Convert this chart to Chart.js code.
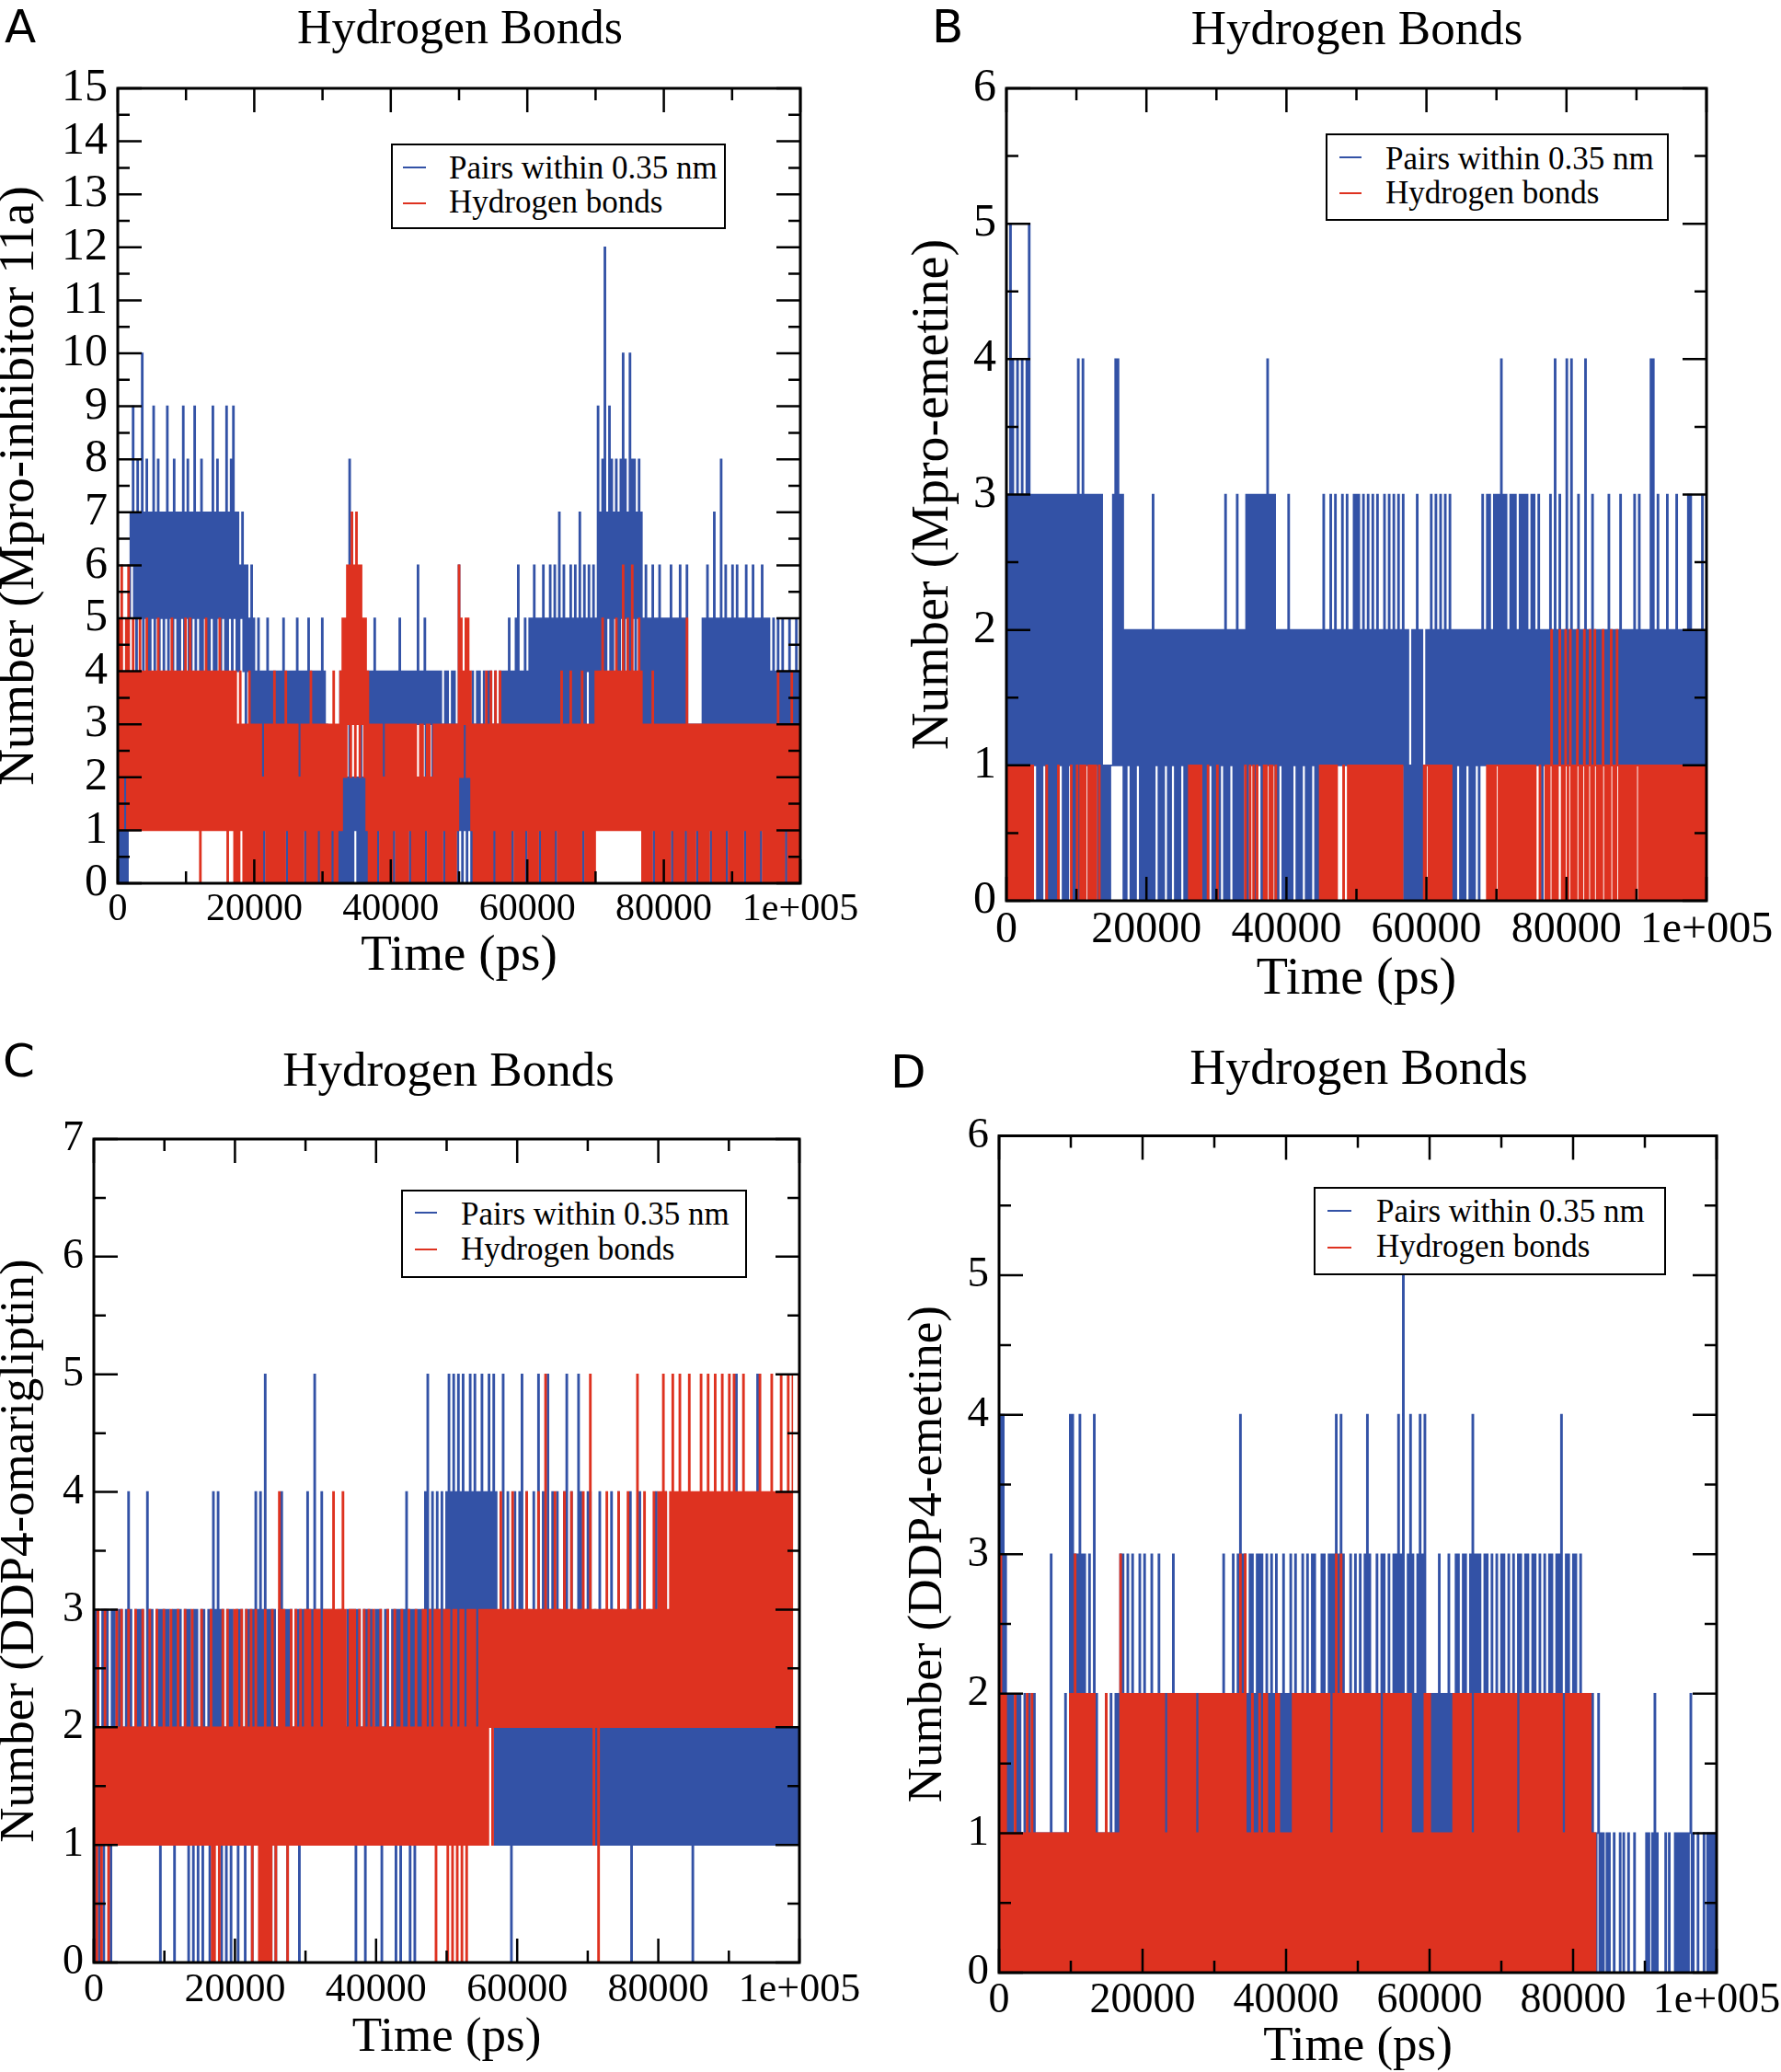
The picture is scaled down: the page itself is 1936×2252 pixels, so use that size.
<!DOCTYPE html>
<html>
<head>
<meta charset="utf-8">
<script src="https://cdn.jsdelivr.net/npm/chart.js@4.4.0/dist/chart.umd.min.js"></script>
<style>
  html, body { margin: 0; padding: 0; background: #fff; }
  body { position: relative; width: 1936px; height: 2252px; overflow: hidden; }
  canvas { position: absolute; }
  .txt { position: absolute; white-space: nowrap; line-height: 1; color: #000; font-family: 'Liberation Serif', 'Times New Roman', serif; }
  .letter { font-family: 'DejaVu Sans', 'Liberation Sans', sans-serif; }
  .legend { position: absolute; border: 2px solid #000; background: #fff; box-sizing: border-box; }
  .swatch { position: absolute; height: 2px; }
</style>
</head>
<body>
<canvas id="chartA" width="968" height="1040" style="left:0px;top:60px"></canvas>
<canvas id="chartB" width="968" height="1050" style="left:968px;top:60px"></canvas>
<canvas id="chartC" width="968" height="1052" style="left:0px;top:1200px"></canvas>
<canvas id="chartD" width="1000" height="1052" style="left:968px;top:1200px"></canvas>
<script>
// time axis 0..100000 ps, one sample every ~167 ps
// (one line = 20 samples = ~3.3 ns)
const SPAN = 100000;
const xTickValues = [0, 20000, 40000, 60000, 80000, 100000];
const xTickLabels = ['0', '20000', '40000', '60000', '80000', '1e+005'];
const legendLabels = ['Pairs within 0.35 nm', 'Hydrogen bonds'];

// A: Mpro-inhibitor 11a
const pairsA = [
  0,2,0,1,0,2,0,2,0,1, 5,7,6,9,5,7,4,8,5,7,
  5,10,4,7,5,8,4,7,4,7, 5,9,4,7,5,8,4,7,5,7,
  4,7,5,9,4,7,5,7,4,8, 5,7,4,7,4,7,5,9,4,7,
  5,8,4,7,4,7,5,9,4,7, 5,7,4,8,4,7,5,7,4,7,
  4,7,5,9,4,7,4,8,5,7, 4,7,5,7,4,9,4,7,5,8,
  4,9,5,7,4,7,4,6,5,7, 4,6,3,6,4,5,3,6,3,5,
  2,4,2,5,2,4,1,4,0,4, 2,5,2,4,1,4,2,4,2,4,
  2,4,1,4,2,5,2,4,0,4, 1,4,2,4,2,4,0,5,2,4,
  2,4,1,4,0,4,2,5,2,4, 1,4,2,4,0,4,0,4,1,5,
  2,4,0,3,0,2,0,2,0,2, 0,2,0,2,0,4,0,2,0,2,
  0,2,0,8,0,2,0,2,1,2, 0,2,0,3,0,2,0,2,0,4,
  2,4,1,4,2,5,2,4,0,4, 2,4,2,4,0,4,2,4,2,4,
  2,4,0,4,2,4,2,5,2,4, 1,4,2,4,2,4,0,4,1,4,
  2,4,3,6,3,4,3,4,3,5, 0,4,3,4,3,4,2,4,3,4,
  1,4,2,4,1,3,0,4,1,4, 2,3,1,4,2,4,1,3,0,6,
  1,4,0,3,1,4,0,4,1,3, 0,4,1,3,0,4,1,4,0,3,
  0,4,1,3,0,4,1,4,0,3, 0,4,0,3,1,4,0,4,1,4,
  2,4,2,5,2,4,0,4,2,5, 2,6,2,4,2,4,2,5,0,4,
  3,5,2,5,3,6,3,5,2,5, 0,5,3,6,2,5,3,5,3,6,
  3,5,3,6,0,5,3,7,3,5, 3,6,3,5,3,5,3,6,3,5,
  3,6,3,5,3,7,3,5,0,6, 3,5,4,6,3,5,3,6,3,5,
  4,9,4,7,4,8,4,12,4,7, 5,9,4,8,4,7,5,8,4,7,
  4,8,5,10,4,8,5,7,4,10, 4,8,5,8,4,7,5,8,4,7,
  3,5,3,6,3,5,3,5,3,6, 0,5,3,5,3,6,3,5,3,5,
  3,5,3,5,3,6,0,5,3,5, 3,5,3,6,3,5,3,5,0,6,
  1,3,2,3,1,3,2,3,0,3, 2,3,3,5,3,5,3,6,3,5,
  0,5,3,7,3,5,3,5,3,8, 3,5,3,6,0,5,3,5,3,6,
  3,5,3,6,3,5,3,5,3,5, 0,6,3,5,3,5,3,6,3,5,
  3,5,3,5,0,6,3,5,3,5, 3,5,3,4,3,5,3,4,3,5,
  1,4,2,5,1,4,0,4,1,5, 2,4,1,4,2,5,1,4,2,5
];
const hbondsA = [
  1,5,1,6,1,4,2,5,1,6, 1,4,1,5,1,4,1,4,1,5,
  1,4,1,4,1,5,1,4,1,4, 1,4,1,4,1,5,1,4,1,4,
  1,4,1,4,1,4,1,5,1,4, 1,4,1,4,1,4,1,4,1,5,
  1,4,1,5,1,4,1,4,1,4, 1,4,0,4,1,4,1,5,1,4,
  1,4,1,4,1,4,1,4,1,5, 1,4,1,4,1,4,0,4,1,4,
  1,4,0,4,0,3,0,4,1,3, 0,3,0,3,0,4,0,3,0,3,
  0,3,0,3,0,3,0,2,1,3, 0,3,0,3,0,3,0,4,0,3,
  0,3,0,3,0,3,0,4,1,3, 0,3,0,3,0,3,0,3,0,2,
  0,3,0,3,1,3,0,3,0,4, 0,3,0,3,0,3,1,3,0,3,
  0,3,0,3,0,3,0,3,1,4, 0,3,0,3,1,4,1,5,2,5,
  2,6,3,6,2,7,3,6,2,7, 3,6,2,6,3,5,2,5,1,4,
  0,3,0,3,0,3,0,3,1,3, 0,3,0,2,0,3,0,3,0,3,
  0,3,1,3,0,3,0,3,0,3, 0,3,0,3,0,3,1,3,0,3,
  0,3,0,2,0,3,0,3,0,2, 1,3,0,3,0,2,0,3,0,3,
  0,3,0,3,0,3,1,3,0,3, 0,3,0,3,0,3,0,3,1,6,
  2,5,2,4,3,5,2,5,2,4, 1,3,0,3,0,3,0,3,0,3,
  0,3,0,4,0,3,0,4,0,3, 1,4,0,3,0,4,0,3,0,3,
  0,3,0,3,0,3,1,3,0,3, 0,3,0,3,0,3,0,3,1,3,
  0,3,0,3,0,3,0,3,0,3, 1,3,0,3,0,3,0,3,0,3,
  0,3,0,3,1,3,0,3,0,4, 0,3,0,3,0,3,0,4,0,3,
  0,3,0,3,0,3,0,4,1,3, 0,3,0,3,0,3,0,3,0,4,
  1,4,1,4,1,5,1,4,1,4, 1,4,1,4,1,4,1,5,1,4,
  1,4,1,6,1,4,1,5,1,4, 1,6,1,4,1,4,1,5,1,4,
  0,3,0,3,0,3,0,3,0,4, 1,3,0,3,0,3,0,3,0,3,
  0,3,0,3,0,3,1,3,0,3, 0,3,0,3,0,3,0,3,1,5,
  0,3,0,3,0,3,0,3,1,3, 0,3,0,3,0,3,0,3,0,3,
  1,3,0,3,0,3,0,3,0,3, 0,3,0,3,1,3,0,3,0,3,
  0,3,0,3,0,3,0,3,0,3, 1,3,0,3,0,3,0,3,0,3,
  0,3,0,3,1,3,0,3,0,3, 0,3,0,3,0,3,0,3,0,4,
  0,3,0,3,0,3,1,3,0,3, 0,4,0,3,0,3,0,3,0,3
];

// B: Mpro-emetine
const pairsB = [
  1,3,1,5,1,4,1,3,1,4, 1,3,1,4,1,3,1,4,1,5,
  0,3,0,3,1,3,0,3,0,3, 0,3,1,3,0,3,0,3,0,3,
  0,3,0,3,0,3,1,3,0,3, 0,3,0,3,1,3,0,3,0,3,
  0,4,0,3,0,4,0,3,1,3, 0,3,0,3,0,3,1,3,0,3,
  0,3,0,1,0,1,0,1,0,1, 1,3,1,4,1,4,1,3,1,3,
  0,2,0,2,1,2,0,2,0,2, 0,2,1,2,0,2,0,2,0,2,
  0,2,0,2,0,3,0,2,1,2, 0,2,0,2,0,2,1,2,0,2,
  0,2,1,2,0,2,0,2,0,2, 1,2,0,2,0,2,0,2,1,2,
  0,2,0,2,0,2,1,2,0,2, 0,2,0,2,1,2,0,2,0,2,
  0,2,0,2,1,2,0,3,0,2, 0,2,1,2,0,2,0,3,0,2,
  0,2,0,2,1,3,0,3,1,3, 1,3,0,3,1,3,1,3,0,3,
  1,3,0,4,1,3,0,3,1,3, 0,2,0,2,1,2,0,2,0,2,
  0,3,0,2,0,2,1,2,0,2, 0,2,0,2,1,2,0,2,0,2,
  0,2,1,2,0,2,0,2,0,2, 1,3,1,2,1,2,1,3,1,2,
  1,3,1,2,1,2,1,3,1,2, 1,3,1,2,1,2,1,3,1,3,
  1,3,1,2,1,3,1,2,1,3, 1,2,1,3,1,2,1,3,1,2,
  1,2,1,3,1,2,1,3,1,2, 1,3,1,2,1,3,1,2,1,3,
  0,2,0,2,0,1,0,2,0,2, 0,3,0,2,0,2,0,1,0,2,
  1,2,1,3,1,2,1,3,1,2, 1,3,1,2,1,3,1,2,1,3,
  0,2,0,2,0,2,1,2,0,2, 0,2,0,2,1,2,0,2,0,2,
  0,2,1,2,0,2,1,3,1,2, 1,3,1,3,1,2,1,3,1,3,
  1,3,1,4,1,3,1,3,1,2, 1,3,1,3,1,3,1,2,1,3,
  1,3,1,3,1,3,1,2,1,3, 1,3,1,2,1,3,1,2,0,2,
  1,2,1,2,1,3,1,2,1,4, 1,2,1,3,1,2,1,2,1,4,
  1,2,1,4,1,2,1,2,1,3, 1,2,1,2,1,4,1,2,1,2,
  1,3,1,2,1,2,1,2,1,2, 1,2,1,2,1,3,1,2,1,2,
  1,2,1,2,1,3,1,2,1,2, 1,2,1,2,1,2,1,3,1,2,
  1,3,1,2,1,2,1,2,1,2, 1,4,1,4,1,2,1,3,1,2,
  1,2,1,2,1,3,1,2,1,2, 1,2,1,3,1,2,1,2,1,2,
  1,2,1,3,1,3,1,2,1,2, 1,2,1,2,1,3,1,2,1,3
];
const hbondsB = [
  1,0,1,0,1,0,1,0,1,0, 1,0,1,0,1,0,1,0,1,0,
  1,0,1,0,0,0,0,0,0,0, 0,0,0,0,1,0,0,0,0,0,
  0,0,0,0,1,0,0,0,0,0, 0,0,0,0,0,1,0,0,0,0,
  1,0,0,1,0,1,0,1,0,0, 1,0,1,0,1,0,1,0,0,1,
  0,0,0,0,0,0,0,0,0,0, 0,0,0,0,0,0,0,0,0,0,
  0,0,0,0,0,0,0,0,0,0, 0,0,0,0,0,0,0,0,0,0,
  0,0,0,0,0,0,0,0,0,0, 0,0,0,0,0,0,0,0,0,0,
  0,0,0,0,0,0,0,0,0,0, 0,0,0,0,0,0,1,0,1,0,
  1,0,1,0,1,0,1,0,0,0, 0,0,1,0,0,0,0,0,0,0,
  1,0,0,0,0,0,0,0,0,0, 0,0,0,0,0,0,0,0,0,0,
  0,0,0,0,1,0,0,0,1,0, 0,1,0,0,1,0,0,0,0,0,
  1,0,1,0,0,1,0,1,0,0, 1,0,0,0,0,0,0,0,0,0,
  0,0,0,0,0,0,0,0,0,0, 0,0,0,0,0,0,0,0,0,0,
  0,0,0,0,0,0,0,0,1,0, 1,0,1,0,1,0,1,0,1,0,
  1,0,1,0,0,0,0,0,1,0, 0,0,1,0,1,0,1,0,1,0,
  1,0,1,0,1,0,1,0,1,0, 1,0,1,0,1,0,1,0,1,0,
  1,0,1,0,1,0,1,0,1,0, 1,0,1,0,1,0,1,0,1,0,
  0,0,0,0,0,0,0,0,0,0, 0,0,0,0,0,0,0,1,0,1,
  1,0,1,0,1,0,1,0,1,0, 1,0,1,0,1,0,1,0,1,0,
  1,0,0,0,0,0,0,0,0,0, 0,0,0,0,0,0,0,0,0,0,
  0,0,0,0,0,0,0,0,0,0, 0,1,0,1,0,1,0,1,0,1,
  1,0,1,0,1,0,1,0,1,0, 1,0,1,0,1,0,1,0,1,0,
  1,0,1,0,1,0,1,0,1,0, 1,0,1,0,0,0,1,0,0,0,
  0,1,0,1,0,1,2,0,1,0, 1,0,1,2,1,0,1,0,2,1,
  0,1,2,0,1,0,1,0,2,1, 0,1,0,1,2,0,1,0,1,2,
  0,1,0,2,1,0,1,0,1,0, 2,1,0,1,0,1,0,2,1,0,
  1,0,2,1,0,1,0,1,0,1, 0,1,0,1,0,1,0,1,0,1,
  1,0,1,0,1,0,1,0,1,0, 1,0,1,0,1,0,1,0,1,0,
  1,0,1,0,1,0,1,0,1,0, 1,0,1,0,1,0,1,0,1,0,
  1,0,1,0,1,0,1,0,1,0, 1,0,1,0,1,0,1,0,1,1
];

// C: DDP4-omarigliptin
const pairsC = [
  0,3,1,3,0,2,1,3,0,3, 1,3,1,2,0,3,1,3,1,2,
  1,3,1,3,1,2,1,3,1,4, 1,3,1,2,1,3,1,3,1,3,
  1,3,1,2,1,4,1,3,1,3, 1,2,1,3,1,3,0,3,1,3,
  1,3,1,3,1,2,1,3,0,3, 1,3,1,3,1,2,1,3,1,3,
  0,3,1,2,0,3,1,3,0,2, 1,3,0,3,1,2,1,3,0,3,
  1,4,1,3,1,4,1,3,0,3, 1,2,0,3,1,3,0,3,1,2,
  1,3,0,3,1,3,1,2,0,3, 1,3,1,3,0,3,1,4,1,3,
  1,4,1,3,1,5,1,3,0,3, 0,3,1,3,0,2,1,3,1,4,
  1,3,1,3,0,3,1,3,1,2, 1,3,1,3,0,3,1,3,1,3,
  1,4,1,3,1,3,1,5,1,3, 1,3,1,4,1,3,1,3,1,3,
  1,3,1,3,1,2,1,3,1,3, 1,3,1,2,1,3,1,3,1,3,
  1,3,0,3,1,3,1,2,1,3, 0,3,1,3,1,3,1,2,1,3,
  1,3,1,3,0,2,1,3,1,3, 1,2,1,3,1,3,0,3,1,3,
  0,3,1,3,1,4,1,3,0,3, 1,3,0,3,1,3,1,3,1,3,
  1,4,1,5,1,3,1,4,1,3, 1,4,1,3,1,4,1,3,1,4,
  2,5,2,4,2,5,2,4,2,5, 2,4,2,5,2,4,2,4,2,5,
  2,4,2,5,2,4,2,4,2,5, 2,4,2,4,2,5,2,4,2,5,
  1,4,1,2,1,3,1,5,1,2, 1,4,1,2,0,3,1,4,1,2,
  1,4,1,5,1,2,1,4,1,3, 1,2,1,4,1,2,1,5,1,3,
  1,4,1,2,1,5,1,3,1,4, 1,2,1,4,1,3,1,2,1,4,
  1,5,1,2,1,4,1,3,1,2, 1,5,1,4,1,2,1,3,1,4,
  1,4,1,2,1,3,1,2,1,4, 1,2,1,3,1,2,1,2,1,4,
  1,3,1,2,1,4,1,2,1,3, 1,2,1,2,1,4,0,2,1,3,
  1,2,1,4,1,2,1,3,1,2, 1,3,1,2,1,2,1,4,1,2,
  1,3,1,2,1,4,1,2,1,3, 1,2,1,3,1,2,1,2,1,3,
  1,2,1,3,1,2,1,2,0,2, 1,2,1,3,1,2,1,2,1,2,
  1,2,1,2,1,3,1,2,1,2, 1,2,1,3,1,2,1,2,1,2,
  1,2,1,2,1,5,1,2,1,2, 1,2,1,3,1,2,1,2,1,2,
  1,2,1,5,1,2,1,2,1,2, 1,2,1,2,1,3,1,2,1,2,
  1,2,1,2,1,2,1,3,1,2, 1,2,1,2,1,2,1,2,1,2
];
const hbondsC = [
  1,2,0,3,1,2,0,2,1,3, 1,2,0,2,1,2,1,2,1,3,
  1,2,1,3,1,2,1,2,1,3, 1,2,1,2,1,3,1,2,1,2,
  1,3,1,2,1,2,1,3,1,2, 1,2,1,3,1,2,1,2,1,3,
  1,2,1,2,1,3,1,2,1,2, 1,3,1,2,1,2,1,3,1,2,
  1,2,1,3,1,2,1,2,1,2, 1,3,1,2,1,2,1,2,1,3,
  0,2,0,2,1,2,0,2,1,3, 1,2,1,3,1,2,1,2,1,3,
  1,3,1,2,1,3,1,2,1,3, 1,2,1,3,0,2,1,3,1,2,
  0,2,0,2,0,3,0,2,0,2, 0,3,1,2,0,2,1,4,1,3,
  1,3,1,2,0,2,1,3,1,2, 1,3,1,2,1,3,1,2,1,3,
  1,3,1,3,1,2,1,3,1,3, 1,3,1,2,1,3,1,3,1,3,
  1,3,1,4,1,3,1,3,1,3, 1,4,1,3,1,2,1,3,1,3,
  1,3,1,2,1,3,1,2,1,3, 1,2,1,3,1,2,1,3,1,2,
  1,2,1,3,1,2,1,2,1,3, 1,2,1,2,1,3,1,2,1,2,
  1,3,1,2,1,2,1,3,1,2, 1,2,1,3,1,2,1,2,1,3,
  1,3,1,2,1,3,1,2,1,3, 0,3,1,3,1,2,1,3,1,3,
  0,3,1,2,0,3,1,3,0,2, 1,3,0,3,1,2,0,3,1,3,
  1,3,1,3,1,2,1,3,1,3, 1,3,1,3,1,3,2,3,1,3,
  2,3,2,3,2,4,2,3,2,3, 2,3,2,3,2,4,2,3,2,3,
  2,3,2,3,2,3,2,4,2,3, 2,3,2,3,2,3,2,4,2,3,
  2,3,2,5,2,3,2,3,2,3, 2,4,2,3,2,3,2,3,2,4,
  2,3,2,3,2,4,2,3,2,3, 2,3,2,3,2,4,2,3,2,3,
  2,5,2,3,1,3,2,3,0,3, 2,3,2,3,2,4,2,3,2,3,
  2,3,2,3,2,4,2,3,2,3, 2,3,2,4,2,3,2,3,2,3,
  2,5,2,3,2,3,2,4,2,3, 2,3,2,3,2,4,2,3,2,4,
  2,4,2,5,2,4,2,3,2,4, 2,5,2,4,2,4,2,5,2,4,
  2,4,2,4,2,5,2,4,2,4, 2,4,2,4,2,5,2,4,2,4,
  2,5,2,4,2,4,2,5,2,4, 2,4,2,5,2,4,2,4,2,5,
  2,4,2,5,2,4,2,4,2,4, 2,5,2,4,2,4,2,4,2,4,
  2,4,2,4,2,5,2,4,2,4, 2,4,2,4,2,5,2,4,2,4,
  2,4,2,5,2,4,2,4,2,5, 2,4,2,5,5,5,5,5,4,5
];

// D: DDP4-emetine
const pairsD = [
  2,4,1,4,2,3,0,2,0,2, 0,2,0,1,0,2,0,2,0,1,
  0,2,0,1,0,2,0,1,0,2, 0,1,0,1,0,1,0,1,0,1,
  0,1,0,3,0,1,0,1,0,1, 0,1,0,1,0,2,0,1,0,4,
  1,4,1,3,1,3,1,4,1,3, 0,3,1,2,1,3,1,2,1,4,
  0,2,0,1,0,1,0,1,0,2, 0,1,0,2,0,1,0,2,0,2,
  1,3,1,3,0,2,1,3,1,2, 1,3,0,2,1,2,1,3,0,2,
  1,3,0,2,1,2,1,3,0,2, 1,2,1,3,0,2,1,2,0,2,
  0,2,1,2,1,3,0,2,1,2, 0,2,1,2,0,2,1,2,0,2,
  1,2,0,2,1,2,0,2,1,2, 0,2,1,2,0,2,0,2,1,2,
  0,2,1,2,0,2,1,3,1,2, 0,2,1,2,1,3,1,2,1,3,
  1,4,1,3,0,3,1,2,1,3, 1,3,1,2,1,3,1,3,1,3,
  1,2,1,3,1,2,1,3,1,2, 1,3,1,2,1,2,1,3,1,2,
  1,2,1,3,1,2,1,3,1,2, 0,2,1,3,1,2,1,3,1,2,
  1,3,1,3,0,2,1,2,1,3, 1,3,1,2,1,3,1,3,1,3,
  1,4,1,3,1,4,1,3,1,2, 0,2,1,3,1,2,0,3,1,2,
  1,3,1,2,1,3,1,4,1,3, 1,2,0,2,1,3,1,2,1,3,
  1,3,1,2,1,3,1,2,1,3, 1,3,1,4,1,3,1,5,1,2,
  1,3,1,4,1,3,1,2,1,3, 1,4,1,3,1,4,1,2,0,2,
  1,2,0,2,0,2,0,3,0,2, 0,2,0,2,0,3,0,2,0,2,
  1,3,1,3,1,2,1,3,1,3, 1,2,1,3,1,4,1,3,1,3,
  1,3,1,2,1,3,1,3,1,2, 1,3,1,2,1,3,1,2,1,3,
  1,3,1,2,1,3,1,2,1,3, 1,2,1,3,1,3,1,2,1,3,
  1,3,1,2,1,3,1,3,1,2, 1,3,1,2,1,3,1,2,1,3,
  1,3,1,2,1,3,1,3,1,4, 1,2,1,3,1,3,1,2,1,3,
  1,3,1,2,1,3,1,2,0,2, 0,2,0,1,0,2,0,1,0,1,
  2,0,1,0,1,0,0,1,0,1, 0,0,0,1,0,0,0,0,1,0,
  0,1,0,0,0,1,0,0,0,0, 1,0,0,0,0,0,0,0,0,0,
  1,0,1,0,0,1,0,2,0,1, 0,0,0,0,0,0,1,0,0,1,
  0,0,0,0,1,0,1,0,1,0, 1,0,1,0,1,0,1,2,0,1,
  0,0,0,1,0,0,0,0,1,0, 0,1,0,1,0,1,0,1,0,1
];
const hbondsD = [
  0,3,0,2,0,2,0,1,0,1, 0,1,0,2,0,1,0,1,0,1,
  0,1,0,2,0,1,0,2,0,1, 0,1,0,1,0,1,0,1,0,1,
  0,1,0,1,0,1,0,1,0,1, 0,1,0,1,0,1,0,1,0,2,
  0,2,0,3,0,2,0,2,0,2, 0,2,0,2,0,2,0,2,0,2,
  0,1,0,1,0,1,0,1,0,2, 0,1,0,1,0,1,0,1,0,1,
  0,3,0,2,0,2,0,2,0,2, 0,2,0,2,0,2,0,2,0,2,
  0,2,0,2,0,2,0,2,0,2, 0,2,0,2,0,2,0,2,0,1,
  0,2,0,2,0,2,0,2,0,2, 0,2,0,2,0,2,0,2,0,2,
  0,2,0,2,0,1,0,2,0,2, 0,2,0,2,0,2,0,2,0,2,
  0,2,0,2,0,2,0,2,0,2, 0,2,0,2,0,2,0,2,0,2,
  0,3,0,2,0,3,0,1,0,1, 0,2,0,1,0,1,0,2,0,1,
  0,2,0,2,0,1,0,1,0,1, 0,2,0,2,0,1,0,1,0,1,
  0,1,0,1,0,2,0,2,0,2, 0,2,0,2,0,2,0,2,0,2,
  0,2,0,2,0,2,0,2,0,2, 0,2,0,2,0,2,0,1,0,2,
  0,3,0,2,0,3,0,2,0,2, 0,2,0,2,0,2,0,2,0,2,
  0,2,0,2,0,2,0,2,0,2, 0,2,0,2,0,2,0,2,0,1,
  0,2,0,2,0,2,0,2,0,2, 0,2,0,2,0,2,0,2,0,2,
  0,2,0,2,0,1,0,1,0,1, 0,1,0,1,0,2,0,2,0,2,
  0,1,0,1,0,1,0,1,0,1, 0,1,0,1,0,1,0,1,0,2,
  0,2,0,2,0,2,0,2,0,2, 0,2,0,2,0,1,0,2,0,2,
  0,2,0,2,0,2,0,2,0,2, 0,2,0,2,0,2,0,2,0,2,
  0,2,0,2,0,2,0,2,0,2, 0,2,0,1,0,2,0,2,0,2,
  0,2,0,2,0,2,0,2,0,2, 0,2,0,2,0,2,0,2,0,2,
  0,2,0,2,0,2,0,2,0,2, 0,1,0,2,0,2,0,2,0,2,
  0,2,0,2,0,2,0,2,0,2, 0,2,0,2,0,1,0,1,0,0,
  0,0,0,0,0,0,0,0,0,0, 0,0,0,0,0,0,0,0,0,0,
  0,0,0,0,0,0,0,0,0,0, 0,0,0,0,0,0,0,0,0,0,
  0,0,0,0,0,0,0,0,0,0, 0,0,0,0,0,0,0,0,0,0,
  0,0,0,0,0,0,0,0,0,0, 0,0,0,0,0,0,0,0,0,0,
  0,0,0,0,0,0,0,0,0,0, 0,0,0,0,0,0,0,0,0,0
];

const BLUE = '#3352a6';
const RED = '#de3220';
const SERIF = "'Liberation Serif', 'Times New Roman', serif";
const LINE_W = 1.6;

// ticks pointing inwards on all four sides, plus the box
const framePlugin = {
  id: 'frame',
  afterDatasetsDraw(chart) {
    const { ctx, chartArea: a, scales: { x, y } } = chart;
    ctx.save();
    ctx.strokeStyle = '#000';
    ctx.lineWidth = 2.5;
    ctx.beginPath();
    for (let v = 0; v <= x.max; v += 10000) {
      const px = x.getPixelForValue(v);
      const len = v % 20000 === 0 ? 26 : 13;
      ctx.moveTo(px, a.bottom); ctx.lineTo(px, a.bottom - len);
      ctx.moveTo(px, a.top); ctx.lineTo(px, a.top + len);
    }
    for (let v = 0; v <= y.max; v += 0.5) {
      const py = y.getPixelForValue(v);
      const len = v % 1 === 0 ? 26 : 13;
      ctx.moveTo(a.left, py); ctx.lineTo(a.left + len, py);
      ctx.moveTo(a.right, py); ctx.lineTo(a.right - len, py);
    }
    ctx.stroke();
    ctx.lineWidth = 3;
    ctx.strokeRect(a.left, a.top, a.right - a.left, a.bottom - a.top);
    ctx.restore();
  }
};

function series(values, color, order) {
  return {
    data: values.map((v, i) => ({ x: i * SPAN / (values.length - 1), y: v })),
    borderColor: color,
    borderWidth: LINE_W,
    pointRadius: 0,
    stepped: true,
    fill: false,
    order: order
  };
}

function makePanel(p) {
  new Chart(document.getElementById(p.id), {
    type: 'line',
    data: { datasets: [series(p.pairs, BLUE, 2), series(p.hbonds, RED, 1)] },
    options: {
      responsive: false,
      devicePixelRatio: 1,
      animation: false,
      events: [],
      layout: { padding: p.pad },
      scales: {
        x: {
          type: 'linear', min: 0, max: SPAN,
          grid: { display: false, drawTicks: false },
          border: { display: false },
          afterFit: s => { s.height = p.xHeight; },
          ticks: {
            stepSize: 20000, autoSkip: false, maxRotation: 0, padding: 8, color: '#000',
            font: { family: SERIF, size: p.xTick, lineHeight: 1 },
            callback: v => { const k = xTickValues.indexOf(v); return k < 0 ? '' : xTickLabels[k]; }
          },
          title: {
            display: true, text: 'Time (ps)', color: '#000',
            font: { family: SERIF, size: p.axisFont, lineHeight: 1 },
            padding: { top: 0, bottom: p.xTitlePad }
          }
        },
        y: {
          type: 'linear', min: 0, max: p.yMax,
          grid: { display: false, drawTicks: false },
          border: { display: false },
          afterFit: s => { s.width = p.yWidth; },
          ticks: {
            stepSize: 1, autoSkip: false, padding: 11, color: '#000',
            font: { family: SERIF, size: p.yTick, lineHeight: 1 }
          },
          title: {
            display: true, text: p.yTitle, color: '#000',
            font: { family: SERIF, size: p.axisFont, lineHeight: 1 },
            padding: { top: p.yTitlePad, bottom: 0 }
          }
        }
      },
      plugins: { legend: { display: false }, tooltip: { enabled: false } }
    },
    plugins: [framePlugin]
  });
}

const panels = [
  { id: 'chartA', yMax: 15, yTitle: 'Number (Mpro-inhibitor 11a)', pairs: pairsA, hbonds: hbondsA,
    pad: { left: 0, top: 35, right: 98, bottom: 0 }, yWidth: 128, xHeight: 140,
    yTick: 50, xTick: 42, axisFont: 55, xTitlePad: 33, yTitlePad: -6 },
  { id: 'chartB', yMax: 6, yTitle: 'Number (Mpro-emetine)', pairs: pairsB, hbonds: hbondsB,
    pad: { left: 0, top: 31, right: 81, bottom: 0 }, yWidth: 126, xHeight: 131,
    yTick: 50, xTick: 48, axisFont: 56, xTitlePad: 17, yTitlePad: 19 },
  { id: 'chartC', yMax: 7, yTitle: 'Number (DDP4-omarigliptin)', pairs: pairsC, hbonds: hbondsC,
    pad: { left: 0, top: 38, right: 99, bottom: 0 }, yWidth: 102, xHeight: 119,
    yTick: 46, xTick: 44, axisFont: 53, xTitlePad: 10, yTitlePad: -4 },
  { id: 'chartD', yMax: 6, yTitle: 'Number (DDP4-emetine)', pairs: pairsD, hbonds: hbondsD,
    pad: { left: 0, top: 34, right: 102, bottom: 0 }, yWidth: 118, xHeight: 108,
    yTick: 47, xTick: 46, axisFont: 53, xTitlePad: 0, yTitlePad: 15 }
];
panels.forEach(makePanel);

// panel letters, titles and boxed legends
function addText(str, left, top, size, cls, width) {
  const d = document.createElement('div');
  d.className = 'txt' + (cls ? ' ' + cls : '');
  d.textContent = str;
  d.style.left = left + 'px';
  d.style.top = top + 'px';
  d.style.fontSize = size + 'px';
  if (width) { d.style.width = width + 'px'; d.style.textAlign = 'center'; }
  document.body.appendChild(d);
}

const LETTER = 50;
const letters = [['A', 5, 46], ['B', 1013, 46], ['C', 3, 1170], ['D', 968, 1182]];
letters.forEach(([t, x, base]) => addText(t, x, base - 0.846 * LETTER, LETTER, 'letter'));

const titles = [[500, 48, 52], [1475, 48, 53], [487.5, 1180, 53], [1477, 1178, 54]];
titles.forEach(([cx, base, size]) => addText('Hydrogen Bonds', cx - 300, base - 0.8375 * size, size, '', 600));

const legends = [
  { box: [425, 156, 364, 93], textX: 488, base: [194, 231], line: [438, 463], lineY: [182, 221] },
  { box: [1441, 145, 373, 95], textX: 1506, base: [184, 221], line: [1456, 1480], lineY: [171, 210] },
  { box: [436, 1293, 376, 96], textX: 501, base: [1331, 1369], line: [451, 475], lineY: [1318, 1358] },
  { box: [1428, 1290, 383, 96], textX: 1496, base: [1328, 1366], line: [1443, 1469], lineY: [1316, 1356] }
];
legends.forEach(L => {
  const b = document.createElement('div');
  b.className = 'legend';
  b.style.left = L.box[0] + 'px'; b.style.top = L.box[1] + 'px';
  b.style.width = L.box[2] + 'px'; b.style.height = L.box[3] + 'px';
  document.body.appendChild(b);
  [BLUE, RED].forEach((c, i) => {
    const s = document.createElement('div');
    s.className = 'swatch';
    s.style.background = c;
    s.style.left = L.line[0] + 'px';
    s.style.width = (L.line[1] - L.line[0]) + 'px';
    s.style.top = (L.lineY[i] - 1) + 'px';
    document.body.appendChild(s);
    addText(legendLabels[i], L.textX, L.base[i] - 0.8375 * 35, 35);
  });
});
</script>
</body>
</html>
